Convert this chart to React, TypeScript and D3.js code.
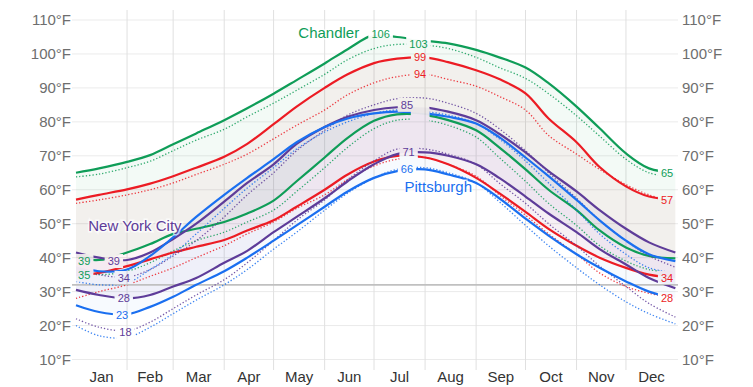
import * as d3 from "d3";

// sample days (day of year) for every series below
const days = [0, 14, 31, 45, 59, 73, 90, 104, 120, 134, 151, 165, 181, 195, 212, 226, 243, 257, 273, 287, 304, 318, 334, 348, 364];

const chandlerHigh = [65, 66.3, 68.2, 70.2, 73.4, 76.6, 80.5, 84, 88.3, 92.3, 97.2, 101.4, 105.6, 105, 103.9, 103.1, 101.2, 99, 96, 91.4, 84.5, 78.1, 70.7, 66.3, 65.1];
const chandlerFeelsHigh = [63.8, 64.6, 66.5, 68.4, 71.5, 74.6, 77.8, 81.5, 85.5, 89.3, 94, 98.3, 101.6, 102.8, 102.6, 101.6, 99, 96, 92.8, 88.3, 81.8, 75.8, 69, 65, 63.7];
const chandlerLow = [40, 39.3, 41.5, 44, 47, 48.5, 50.5, 53, 56.8, 62.5, 69.5, 75.3, 80.3, 82.2, 82, 80.5, 77.5, 72.5, 66, 60, 54, 48, 43, 40.5, 39.8];
const chandlerFeelsLow = [36, 35, 36, 38.5, 42, 45, 47.5, 50.5, 54, 59.5, 66.5, 72.5, 78, 80.5, 80.5, 79, 75.5, 69.5, 62.5, 56, 49.5, 43.5, 39, 36.5, 35.5];

const redHigh = [57.1, 58.5, 60.1, 61.8, 64, 66.5, 69.7, 73.5, 79.3, 84.5, 90, 94, 97.3, 98.6, 99, 97.6, 95.2, 92.6, 88.4, 81, 74, 66.7, 61, 58, 57];
const redFeelsHigh = [56, 57, 58.5, 60, 62, 64.5, 67.5, 70.5, 75, 79, 83.5, 88, 91.5, 93.3, 94, 92.5, 90.5, 87.5, 83.5, 76, 70.5, 66, 61.5, 58.5, 56.3];
const redLow = [34.5, 35.5, 37.5, 39.5, 41.5, 43.2, 45.2, 48, 51, 55, 60, 64.5, 68.3, 70, 69.5, 67.5, 63.5, 59, 53.5, 48.5, 43.5, 40, 37, 35, 34];
const redFeelsLow = [28, 30, 32, 34.5, 37, 40, 43.5, 47, 50.5, 54.5, 58.5, 63, 67, 69, 69.5, 67.5, 64, 58.5, 52.5, 47, 41, 35.5, 31.5, 29.5, 28];

const nycHigh = [41.5, 40, 39.3, 41.5, 45.5, 50, 56.5, 62, 67.5, 73.5, 78.5, 81.5, 83.5, 84.3, 84.2, 83, 80.5, 76.5, 71, 65.5, 59.5, 54, 48.5, 44.5, 41.5];
const nycFeelsHigh = [37, 35, 34.3, 36.5, 40.5, 45, 52, 58.5, 65, 71.5, 77.5, 82, 85, 86.8, 87, 85.5, 82.5, 78, 71.5, 65, 57.5, 51, 45, 40.5, 37.2];
const nycLow = [30.5, 29, 28, 29, 31.5, 34, 38.5, 42, 47.5, 52, 57.5, 62.5, 67.5, 70.5, 71, 70, 67.5, 63.5, 58, 53, 47.5, 42.5, 38, 34, 31];
const nycFeelsLow = [22, 19.5, 18.5, 21, 25, 29, 33.5, 38.5, 45, 51, 57, 63, 68.5, 72, 72, 70.5, 67.5, 62, 56, 50, 43.5, 37.5, 31.5, 26.5, 22.5];

const pitHigh = [37.5, 36, 36.5, 40.5, 46, 52, 58.5, 63.5, 69, 74, 78.5, 81, 82.5, 83, 82.5, 81.5, 79.5, 75.5, 69.5, 64, 57, 51, 45, 41, 39];
const pitFeelsHigh = [33, 32, 32.5, 36.5, 41, 47, 54.5, 60.5, 66.5, 72, 77, 80, 82.5, 83.5, 83, 82, 79.5, 75, 68.5, 62, 54, 47, 41, 37, 35.5];
const pitLow = [26, 24, 23.3, 25.5, 28.5, 32, 36, 40, 45, 49.5, 55, 59.5, 63.5, 65.5, 66, 64.5, 62, 57.5, 51.5, 46.5, 41, 37, 33, 30, 28];
const pitFeelsLow = [20, 17, 16.5, 19.5, 23.5, 27.5, 32, 36.5, 42.5, 47.5, 54, 59, 63.5, 66, 66.5, 65, 62, 56.5, 49.5, 43.5, 37, 32, 27, 23.5, 20.5];

const months = ["Jan", "Feb", "Mar", "Apr", "May", "Jun", "Jul", "Aug", "Sep", "Oct", "Nov", "Dec"];
const monthStarts = [0, 31, 59, 90, 120, 151, 181, 212, 243, 273, 304, 334, 365];
const tempTicks = [10, 20, 30, 40, 50, 60, 70, 80, 90, 100, 110];

const cities = [
  { key: "chandler", name: "Chandler", color: "#0f9d58", band: 0.05, high: chandlerHigh, low: chandlerLow, feelsHigh: chandlerFeelsHigh, feelsLow: chandlerFeelsLow },
  { key: "red", name: "", color: "#ec1c24", band: 0.045, high: redHigh, low: redLow, feelsHigh: redFeelsHigh, feelsLow: redFeelsLow },
  { key: "nyc", name: "New York City", color: "#5e3c99", band: 0.05, high: nycHigh, low: nycLow, feelsHigh: nycFeelsHigh, feelsLow: nycFeelsLow },
  { key: "pit", name: "Pittsburgh", color: "#1a6ff0", band: 0.035, high: pitHigh, low: pitLow, feelsHigh: pitFeelsHigh, feelsLow: pitFeelsLow },
];

// value labels: city, day of year, value (show=false: crowded out, only its gap is kept)
const valueLabels = [
  { city: "chandler", day: 185, value: 106, show: true },
  { city: "chandler", day: 208, value: 103, show: true },
  { city: "red", day: 209, value: 99, show: true },
  { city: "red", day: 209, value: 94, show: true },
  { city: "nyc", day: 201, value: 85, show: true },
  { city: "pit", day: 209, value: 83, show: false },
  { city: "chandler", day: 209, value: 82, show: false },
  { city: "nyc", day: 202, value: 71, show: true },
  { city: "pit", day: 201, value: 66, show: true },
  { city: "chandler", day: 5, value: 39, show: true },
  { city: "chandler", day: 5, value: 35, show: true },
  { city: "nyc", day: 23, value: 39, show: true },
  { city: "nyc", day: 29, value: 34, show: true },
  { city: "nyc", day: 29, value: 28, show: true },
  { city: "pit", day: 28, value: 23, show: true },
  { city: "nyc", day: 30, value: 18, show: true },
  { city: "chandler", day: 359, value: 65, show: true },
  { city: "red", day: 359, value: 57, show: true },
  { city: "red", day: 359, value: 34, show: true },
  { city: "red", day: 359, value: 28, show: true },
];

// city name labels: day of year and temperature where the name sits
const cityLabels = [
  { city: "chandler", day: 153.5, temp: 106.2 },
  { city: "nyc", day: 35.8, temp: 49.4 },
  { city: "pit", day: 220, temp: 60.8 },
];

const width = 753;
const height = 387;
const FONT = "'Liberation Sans', Arial, sans-serif";

export default function App() {
  const x = d3.scaleLinear().domain([0, 365]).range([76, 677]);
  const y = d3.scaleLinear().domain([10, 110]).range([359.5, 20]);

  const colorOf = (k: string) => cities.find(c => c.key === k)!.color;
  const curve = d3.curveCatmullRom.alpha(0.5);

  const line = (vals: number[]) =>
    d3.line<number>()
      .x((_, i) => x(days[i]))
      .y(d => y(d))
      .curve(curve)(vals) || "";

  const band = (hi: number[], lo: number[]) =>
    d3.area<number>()
      .x((_, i) => x(days[i]))
      .y0((_, i) => y(lo[i]))
      .y1(d => y(d))
      .curve(curve)(hi) || "";

  const labelW = (v: number) => String(v).length * 6.2 + 6;

  return (
    <div style={{ position: "absolute", left: 0, top: 0 }}>
      <svg width={width} height={height} style={{ display: "block", fontFamily: FONT }}>
        <defs>
          <mask id="gapMask" maskUnits="userSpaceOnUse" x={0} y={0} width={width} height={height}>
            <rect x={0} y={0} width={width} height={height} fill="#fff" />
            {valueLabels.map((l, i) => (
              <rect key={i} x={x(l.day) - labelW(l.value) / 2} y={y(l.value) - 7}
                width={labelW(l.value)} height={14} fill="#000" />
            ))}
          </mask>
        </defs>

        {/* grid */}
        <g>
          {tempTicks.map(t => (
            <line key={t} x1={72} x2={678} y1={y(t)} y2={y(t)} stroke="#ebebeb" strokeWidth={1} />
          ))}
          {monthStarts.slice(1, -1).map(d => (
            <line key={d} x1={x(d)} x2={x(d)} y1={10} y2={370} stroke="#e0e0e0" strokeWidth={1} />
          ))}
        </g>

        {/* bands */}
        <g>
          {cities.map(c => (
            <path key={c.key} d={band(c.high, c.low)} fill={c.color} fillOpacity={c.band} />
          ))}
        </g>

        {/* freezing */}
        <line x1={72} x2={678} y1={y(32)} y2={y(32)} stroke="#c0c0c0" strokeWidth={1.8} />

        {/* lines */}
        <g mask="url(#gapMask)">
          {cities.map(c => (
            <g key={c.key}>
              <path d={line(c.feelsHigh)} fill="none" stroke={c.color} strokeWidth={1.3} strokeDasharray="1.3 2" strokeOpacity={0.85} />
              <path d={line(c.feelsLow)} fill="none" stroke={c.color} strokeWidth={1.3} strokeDasharray="1.3 2" strokeOpacity={0.85} />
              <path d={line(c.high)} fill="none" stroke={c.color} strokeWidth={2.2} />
              <path d={line(c.low)} fill="none" stroke={c.color} strokeWidth={2.2} />
            </g>
          ))}
        </g>

        {/* value labels */}
        <g fontSize={11}>
          {valueLabels.filter(l => l.show).map((l, i) => (
            <text key={i} x={x(l.day)} y={y(l.value)} dy="0.36em" textAnchor="middle" fill={colorOf(l.city)}>
              {l.value}
            </text>
          ))}
        </g>

        {/* city names */}
        <g fontSize={15}>
          {cityLabels.map(l => (
            <text key={l.city} x={x(l.day)} y={y(l.temp)} dy="0.35em" textAnchor="middle"
              fill={colorOf(l.city)} stroke="#fff" strokeOpacity={0.7} strokeWidth={3}
              style={{ paintOrder: "stroke" }}>
              {cities.find(c => c.key === l.city)!.name}
            </text>
          ))}
        </g>

        {/* axes */}
        <g fontSize={15} fill="#6e6e6e">
          {tempTicks.map(t => (
            <g key={t}>
              <text x={71} y={y(t)} dy="0.35em" textAnchor="end">{t}°F</text>
              <text x={682} y={y(t)} dy="0.35em" textAnchor="start">{t}°F</text>
            </g>
          ))}
        </g>
        <g fontSize={15} fill="#333">
          {months.map((m, i) => (
            <text key={m} x={x((monthStarts[i] + monthStarts[i + 1]) / 2)} y={377} dy="0.35em" textAnchor="middle">{m}</text>
          ))}
        </g>
      </svg>
    </div>
  );
}
